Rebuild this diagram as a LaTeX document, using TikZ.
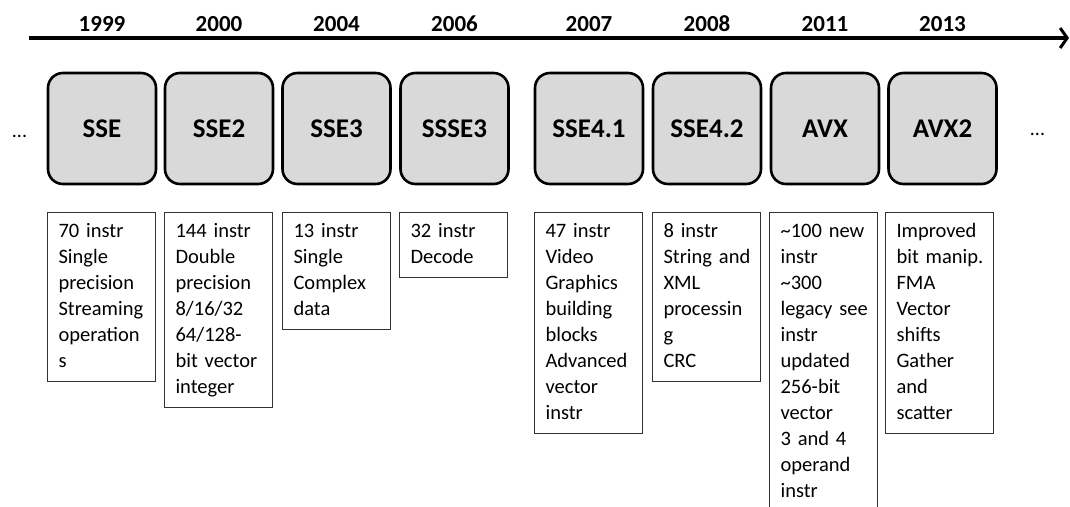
\documentclass[tikz,border=0pt]{standalone}
\usepackage{fontspec}
\setmainfont{Carlito}
\usetikzlibrary{arrows.meta}
\definecolor{boxgray}{RGB}{217,217,217}
\definecolor{descline}{RGB}{50,50,50}
\newcommand\dl[1]{\mbox{#1}}
\tikzset{
  ext/.style={draw=black, line width=2.6pt, fill=boxgray, rounded corners=15pt,
    minimum width=108pt, minimum height=111pt, inner sep=0pt,
    font=\fontsize{27}{30}\selectfont\bfseries},
  yr/.style={anchor=base, inner sep=0pt, font=\fontsize{23}{26}\selectfont\bfseries},
  desc/.style={draw=descline, line width=1.1pt, anchor=north west, inner xsep=11pt, inner ysep=0pt,
    text width=86pt, align=left, text height=25pt, text depth=#1,
    font=\fontsize{20.5}{26}\selectfont},
  dots/.style={anchor=base, inner sep=0pt, font=\fontsize{20}{24}\selectfont},
  axis/.style={line width=4.5pt, -{Straight Barb[length=7pt,width=20pt,line width=3pt]}}
}
\begin{document}
\begin{tikzpicture}[x=1pt,y=-1pt]
\useasboundingbox (0,0) rectangle (1070,506);
% axis
\coordinate (axL) at (29,38);
\coordinate (axR) at (1069,38);
\draw[axis] (axL) -- (axR);
% extension boxes
\node[ext] (sse)   at (102,128.5) {SSE};
\node[ext] (sse2)  at (219,128.5) {SSE2};
\node[ext] (sse3)  at (336.5,128.5) {SSE3};
\node[ext] (ssse3) at (454.5,128.5) {SSSE3};
\node[ext] (sse41) at (589,128.5) {SSE4.1};
\node[ext] (sse42) at (707,128.5) {SSE4.2};
\node[ext] (avx)   at (825,128.5) {AVX};
\node[ext] (avx2)  at (942.5,128.5) {AVX2};
% years
\node[yr] (y1) at (102,31) {1999};
\node[yr] (y2) at (219,31) {2000};
\node[yr] (y3) at (336.5,31) {2004};
\node[yr] (y4) at (454.5,31) {2006};
\node[yr] (y5) at (589,31) {2007};
\node[yr] (y6) at (707,31) {2008};
\node[yr] (y7) at (825,31) {2011};
\node[yr] (y8) at (942.5,31) {2013};
% dots
\node[dots] (dotl) at (19.5,137) {...};
\node[dots] (dotr) at (1037.5,135) {...};
% descriptions
\node[desc=144pt] (d1) at (47,212) {\dl{70 instr}\\\dl{Single}\\\dl{precision}\\\dl{Streaming}\\\dl{operation}\\\dl{s}};
\node[desc=170pt] (d2) at (164,212) {\dl{144 instr}\\\dl{Double}\\\dl{precision}\\\dl{8/16/32}\\\dl{64/128-}\\\dl{bit vector}\\\dl{integer}};
\node[desc=92pt]  (d3) at (282,212) {\dl{13 instr}\\\dl{Single}\\\dl{Complex}\\\dl{data}};
\node[desc=40pt]  (d4) at (399,212) {\dl{32 instr}\\\dl{Decode}};
\node[desc=196pt] (d5) at (534,212) {\dl{47 instr}\\\dl{Video}\\\dl{Graphics}\\\dl{building}\\\dl{blocks}\\\dl{Advanced}\\\dl{vector}\\\dl{instr}};
\node[desc=144pt] (d6) at (652,212) {\dl{8 instr}\\\dl{String and}\\\dl{XML}\\\dl{processin}\\\dl{g}\\\dl{CRC}};
\node[desc=274pt] (d7) at (769,212) {\dl{\textasciitilde100 new}\\\dl{instr}\\\dl{\textasciitilde300}\\\dl{legacy see}\\\dl{instr}\\\dl{updated}\\\dl{256-bit}\\\dl{vector}\\\dl{3 and 4}\\\dl{operand}\\\dl{instr}};
\node[desc=196pt] (d8) at (885,212) {\dl{Improved}\\\dl{bit manip.}\\\dl{FMA}\\\dl{Vector}\\\dl{shifts}\\\dl{Gather}\\\dl{and}\\\dl{scatter}};
\end{tikzpicture}
\end{document}
